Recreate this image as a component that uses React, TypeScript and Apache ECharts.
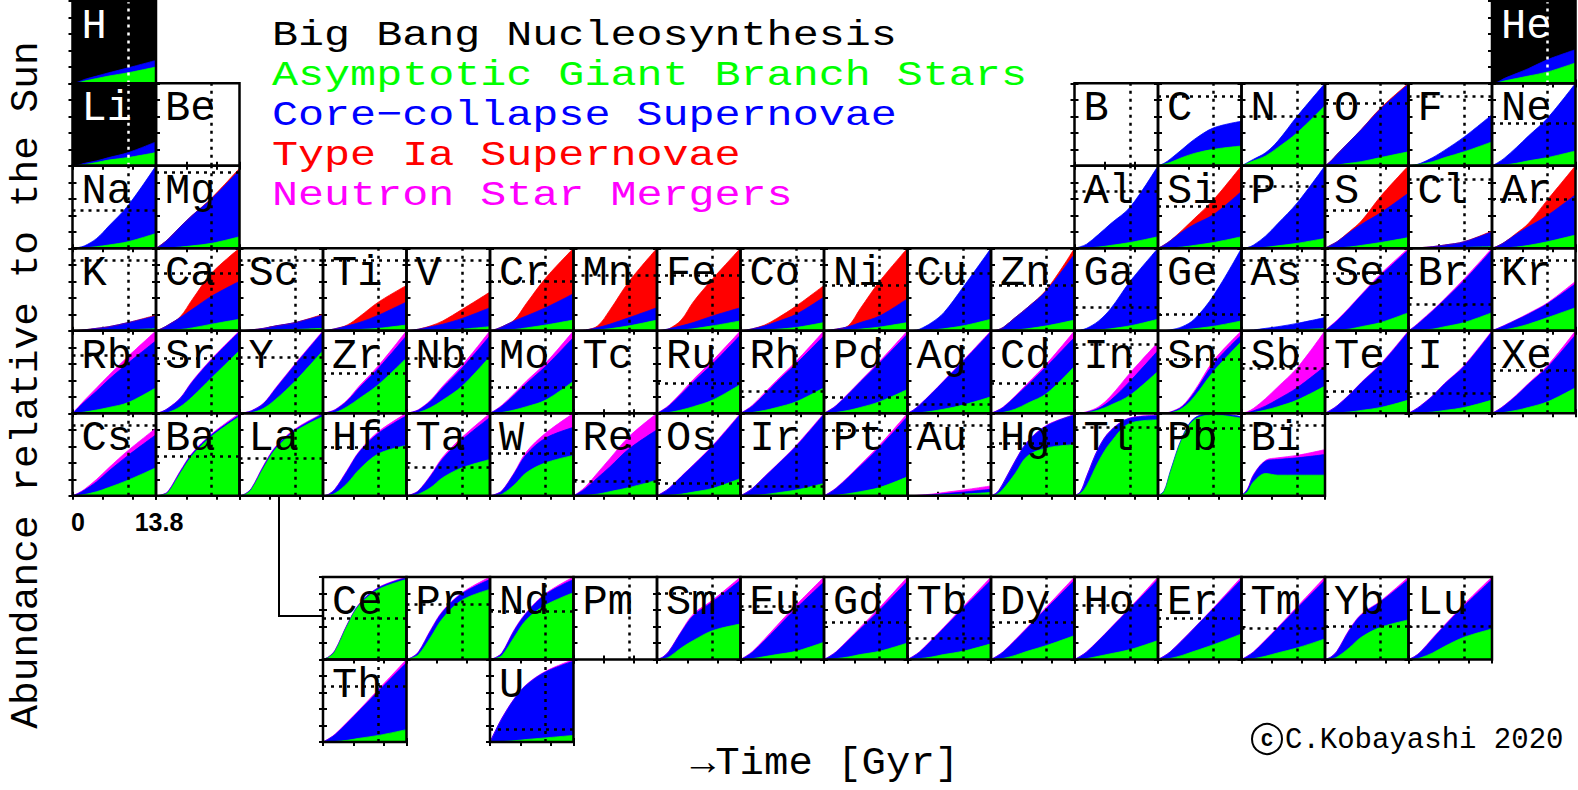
import React, { useEffect, useRef } from "react";
import * as echarts from "echarts";

const TIMES = [0, 1, 2, 4, 6, 9.2, 13.8];
const SUN_BIRTH = 9.2;
const T_MAX = 13.8;

// [symbol, column, row]  (row 7 = lanthanides, row 8 = actinides)
const ELEMENTS: [string, number, number][] = [
  ["H", 0, 0], ["He", 17, 0],
  ["Li", 0, 1], ["Be", 1, 1], ["B", 12, 1], ["C", 13, 1], ["N", 14, 1], ["O", 15, 1], ["F", 16, 1], ["Ne", 17, 1],
  ["Na", 0, 2], ["Mg", 1, 2], ["Al", 12, 2], ["Si", 13, 2], ["P", 14, 2], ["S", 15, 2], ["Cl", 16, 2], ["Ar", 17, 2],
  ["K", 0, 3], ["Ca", 1, 3], ["Sc", 2, 3], ["Ti", 3, 3], ["V", 4, 3], ["Cr", 5, 3], ["Mn", 6, 3], ["Fe", 7, 3], ["Co", 8, 3],
  ["Ni", 9, 3], ["Cu", 10, 3], ["Zn", 11, 3], ["Ga", 12, 3], ["Ge", 13, 3], ["As", 14, 3], ["Se", 15, 3], ["Br", 16, 3], ["Kr", 17, 3],
  ["Rb", 0, 4], ["Sr", 1, 4], ["Y", 2, 4], ["Zr", 3, 4], ["Nb", 4, 4], ["Mo", 5, 4], ["Tc", 6, 4], ["Ru", 7, 4], ["Rh", 8, 4],
  ["Pd", 9, 4], ["Ag", 10, 4], ["Cd", 11, 4], ["In", 12, 4], ["Sn", 13, 4], ["Sb", 14, 4], ["Te", 15, 4], ["I", 16, 4], ["Xe", 17, 4],
  ["Cs", 0, 5], ["Ba", 1, 5], ["La", 2, 5], ["Hf", 3, 5], ["Ta", 4, 5], ["W", 5, 5], ["Re", 6, 5], ["Os", 7, 5], ["Ir", 8, 5],
  ["Pt", 9, 5], ["Au", 10, 5], ["Hg", 11, 5], ["Tl", 12, 5], ["Pb", 13, 5], ["Bi", 14, 5],
  ["Ce", 3, 7], ["Pr", 4, 7], ["Nd", 5, 7], ["Pm", 6, 7], ["Sm", 7, 7], ["Eu", 8, 7], ["Gd", 9, 7], ["Tb", 10, 7],
  ["Dy", 11, 7], ["Ho", 12, 7], ["Er", 13, 7], ["Tm", 14, 7], ["Yb", 15, 7], ["Lu", 16, 7],
  ["Th", 3, 8], ["U", 5, 8],
];

const DARK_CELLS = ["H", "He", "Li"];

// solar abundance level (fraction of panel height), null = not shown
const SOLAR: Record<string, number | null> = {
  H: null, He: null, Li: null, Be: null, B: null,
  C: 0.84, N: 0.6, O: 0.76, F: 0.84, Ne: 0.52,
  Na: 0.46, Mg: 0.92, Al: 0.69, Si: 0.51, P: 0.75, S: 0.46, Cl: 0.84, Ar: 0.59,
  K: 0.85, Ca: 0.7, Sc: 0.85, Ti: 0.85, V: 0.85, Cr: 0.6, Mn: 0.67, Fe: 0.67, Co: 0.85, Ni: 0.55,
  Cu: 0.7, Zn: 0.55, Ga: 0.28, Ge: 0.2, As: 0.85, Se: 0.7, Br: 0.32, Kr: 0.85,
  Rb: 0.7, Sr: 0.67, Y: 0.68, Zr: 0.49, Nb: 0.67, Mo: 0.31, Tc: null, Ru: 0.37, Rh: 0.27, Pd: 0.19,
  Ag: 0.11, Cd: 0.37, In: 0.84, Sn: 0.65, Sb: 0.55, Te: 0.27, I: 0.24, Xe: 0.52,
  Cs: 0.86, Ba: 0.48, La: 0.46, Hf: 0.59, Ta: 0.35, W: 0.51, Re: 0.18, Os: 0.15, Ir: 0.12, Pt: 0.8,
  Au: 0.85, Hg: 0.64, Tl: 0.83, Pb: 0.82, Bi: 0.85,
  Ce: 0.5, Pr: 0.67, Nd: 0.59, Pm: null, Sm: 0.8, Eu: 0.64, Gd: 0.45, Tb: 0.26, Dy: 0.45, Ho: 0.66,
  Er: 0.5, Tm: 0.38, Yb: 0.4, Lu: 0.4, Th: 0.67, U: 0.15,
};

// cumulative layer tops (fraction of panel height) at TIMES
const BBN_TOP: Record<string, number[]> = {
  H: [1, 1, 1, 1, 1, 1, 1],
  He: [1, 1, 1, 1, 1, 1, 1],
  Li: [1, 1, 1, 1, 1, 1, 1],
};

const NSM_TOP: Record<string, number[]> = {
  Se: [0, 0.065, 0.13, 0.28, 0.44, 0.69, 1.0],
  Br: [0, 0.055, 0.12, 0.25, 0.39, 0.63, 1.0],
  Kr: [0, 0.032, 0.065, 0.135, 0.21, 0.34, 0.6],
  Rb: [0, 0.08, 0.16, 0.31, 0.46, 0.69, 1.0],
  Sr: [0, 0.021, 0.062, 0.185, 0.39, 0.66, 1.0],
  Y: [0, 0.011, 0.032, 0.125, 0.31, 0.6, 1.0],
  Zr: [0, 0.017, 0.045, 0.16, 0.33, 0.58, 1.0],
  Nb: [0, 0.017, 0.045, 0.16, 0.33, 0.58, 1.0],
  Mo: [0, 0.045, 0.1, 0.24, 0.39, 0.61, 1.0],
  Ru: [0, 0.045, 0.1, 0.25, 0.41, 0.64, 1.0],
  Rh: [0, 0.045, 0.1, 0.25, 0.4, 0.63, 1.0],
  Pd: [0, 0.043, 0.095, 0.24, 0.39, 0.63, 1.0],
  Ag: [0, 0.042, 0.102, 0.245, 0.395, 0.64, 1.0],
  Cd: [0, 0.033, 0.075, 0.21, 0.36, 0.6, 1.0],
  In: [0, 0.006, 0.018, 0.08, 0.21, 0.49, 0.86],
  Sn: [0, 0.005, 0.015, 0.09, 0.27, 0.64, 1.0],
  Sb: [0, 0.02, 0.06, 0.18, 0.32, 0.55, 1.0],
  Te: [0, 0.042, 0.092, 0.225, 0.375, 0.6, 1.0],
  I: [0, 0.042, 0.092, 0.215, 0.365, 0.58, 1.0],
  Xe: [0, 0.042, 0.094, 0.22, 0.36, 0.58, 1.0],
  Cs: [0, 0.035, 0.08, 0.2, 0.34, 0.55, 0.82],
  Ba: [0, 0.014, 0.055, 0.3, 0.52, 0.75, 1.0],
  La: [0, 0.027, 0.095, 0.37, 0.6, 0.81, 1.0],
  Hf: [0, 0.022, 0.085, 0.31, 0.54, 0.78, 1.0],
  Ta: [0, 0.022, 0.065, 0.25, 0.47, 0.71, 1.0],
  W: [0, 0.022, 0.065, 0.28, 0.53, 0.76, 1.0],
  Re: [0, 0.05, 0.11, 0.28, 0.45, 0.72, 1.0],
  Os: [0, 0.042, 0.092, 0.235, 0.375, 0.61, 1.0],
  Ir: [0, 0.042, 0.092, 0.235, 0.375, 0.61, 1.0],
  Pt: [0, 0.043, 0.095, 0.23, 0.375, 0.615, 1.0],
  Au: [0, 0.003, 0.008, 0.02, 0.04, 0.07, 0.12],
  Hg: [0, 0.042, 0.152, 0.425, 0.655, 0.855, 0.985],
  Tl: [0, 0.052, 0.235, 0.585, 0.795, 0.945, 0.975],
  Bi: [0, 0.085, 0.26, 0.43, 0.46, 0.49, 0.56],
  Ce: [0, 0.037, 0.115, 0.425, 0.675, 0.875, 1.0],
  Pr: [0, 0.032, 0.095, 0.36, 0.59, 0.81, 1.0],
  Nd: [0, 0.027, 0.085, 0.36, 0.57, 0.8, 1.0],
  Sm: [0, 0.032, 0.105, 0.34, 0.55, 0.72, 1.0],
  Eu: [0, 0.045, 0.1, 0.25, 0.41, 0.66, 1.0],
  Gd: [0, 0.043, 0.095, 0.24, 0.39, 0.63, 1.0],
  Tb: [0, 0.043, 0.095, 0.24, 0.39, 0.64, 1.0],
  Dy: [0, 0.043, 0.095, 0.24, 0.39, 0.64, 1.0],
  Ho: [0, 0.042, 0.093, 0.235, 0.385, 0.63, 1.0],
  Er: [0, 0.042, 0.093, 0.235, 0.385, 0.63, 1.0],
  Tm: [0, 0.043, 0.095, 0.24, 0.39, 0.64, 1.0],
  Yb: [0, 0.032, 0.105, 0.36, 0.55, 0.71, 1.0],
  Lu: [0, 0.037, 0.095, 0.26, 0.42, 0.67, 1.0],
  Th: [0, 0.043, 0.095, 0.24, 0.39, 0.64, 1.0],
  U: [0, 0.152, 0.293, 0.525, 0.695, 0.857, 1.0],
};

const SNIA_TOP: Record<string, number[]> = {
  O: [0, 0.06, 0.14, 0.29, 0.44, 0.7, 1.0],
  Mg: [0, 0.05, 0.11, 0.26, 0.4, 0.61, 0.97],
  Si: [0, 0.04, 0.09, 0.22, 0.36, 0.59, 1.0],
  S: [0, 0.04, 0.08, 0.2, 0.33, 0.63, 1.0],
  Cl: [0, 0.003, 0.008, 0.02, 0.04, 0.08, 0.21],
  Ar: [0, 0.03, 0.07, 0.18, 0.3, 0.59, 1.0],
  K: [0, 0.005, 0.012, 0.03, 0.05, 0.1, 0.19],
  Ca: [0, 0.03, 0.07, 0.17, 0.38, 0.7, 1.0],
  Sc: [0, 0.005, 0.012, 0.03, 0.06, 0.1, 0.2],
  Ti: [0, 0.01, 0.025, 0.07, 0.17, 0.35, 0.55],
  V: [0, 0.008, 0.02, 0.06, 0.12, 0.26, 0.47],
  Cr: [0, 0.02, 0.05, 0.13, 0.33, 0.64, 1.0],
  Mn: [0, 0.005, 0.01, 0.06, 0.25, 0.6, 1.0],
  Fe: [0, 0.01, 0.025, 0.13, 0.35, 0.63, 1.0],
  Co: [0, 0.01, 0.025, 0.07, 0.15, 0.3, 0.55],
  Ni: [0, 0.01, 0.02, 0.06, 0.27, 0.6, 1.0],
  Zn: [0, 0.01, 0.04, 0.16, 0.28, 0.5, 1.0],
};

const CCSN_TOP: Record<string, number[]> = {
  H: [0, 0.02, 0.05, 0.09, 0.13, 0.19, 0.28],
  He: [0, 0.02, 0.06, 0.12, 0.18, 0.29, 0.41],
  Li: [0, 0.01, 0.03, 0.06, 0.1, 0.16, 0.29],
  C: [0, 0.03, 0.08, 0.2, 0.32, 0.46, 0.54],
  N: [0, 0.04, 0.08, 0.16, 0.3, 0.6, 1.0],
  O: [0, 0.06, 0.14, 0.29, 0.44, 0.69, 0.99],
  F: [0, 0.01, 0.03, 0.1, 0.19, 0.35, 0.62],
  Ne: [0, 0.04, 0.09, 0.22, 0.36, 0.58, 1.0],
  Na: [0, 0.01, 0.03, 0.12, 0.27, 0.52, 1.0],
  Mg: [0, 0.05, 0.11, 0.26, 0.4, 0.6, 0.95],
  Al: [0, 0.02, 0.05, 0.17, 0.3, 0.5, 1.0],
  Si: [0, 0.04, 0.09, 0.2, 0.29, 0.41, 0.69],
  P: [0, 0.01, 0.04, 0.15, 0.3, 0.55, 1.0],
  S: [0, 0.04, 0.08, 0.19, 0.29, 0.43, 0.67],
  Cl: [0, 0.003, 0.008, 0.02, 0.04, 0.08, 0.2],
  Ar: [0, 0.03, 0.07, 0.17, 0.26, 0.4, 0.65],
  K: [0, 0.005, 0.012, 0.03, 0.05, 0.1, 0.18],
  Ca: [0, 0.03, 0.07, 0.16, 0.26, 0.42, 0.6],
  Sc: [0, 0.005, 0.012, 0.03, 0.06, 0.1, 0.19],
  Ti: [0, 0.01, 0.025, 0.06, 0.1, 0.19, 0.35],
  V: [0, 0.008, 0.02, 0.05, 0.08, 0.15, 0.28],
  Cr: [0, 0.02, 0.05, 0.12, 0.18, 0.28, 0.45],
  Mn: [0, 0.005, 0.01, 0.04, 0.08, 0.16, 0.28],
  Fe: [0, 0.01, 0.025, 0.06, 0.1, 0.18, 0.28],
  Co: [0, 0.01, 0.025, 0.06, 0.11, 0.2, 0.41],
  Ni: [0, 0.01, 0.02, 0.05, 0.1, 0.18, 0.39],
  Cu: [0, 0.005, 0.02, 0.1, 0.22, 0.53, 1.0],
  Zn: [0, 0.01, 0.04, 0.16, 0.28, 0.49, 0.93],
  Ga: [0, 0.01, 0.03, 0.12, 0.27, 0.6, 1.0],
  Ge: [0, 0.003, 0.01, 0.05, 0.14, 0.43, 1.0],
  As: [0, 0.004, 0.01, 0.03, 0.05, 0.09, 0.16],
  Se: [0, 0.06, 0.12, 0.27, 0.43, 0.67, 0.98],
  Br: [0, 0.05, 0.11, 0.24, 0.38, 0.61, 0.98],
  Kr: [0, 0.03, 0.06, 0.13, 0.2, 0.33, 0.57],
  Rb: [0, 0.07, 0.14, 0.27, 0.41, 0.61, 0.88],
  Sr: [0, 0.02, 0.06, 0.18, 0.38, 0.65, 0.99],
  Y: [0, 0.01, 0.03, 0.12, 0.3, 0.59, 0.99],
  Zr: [0, 0.015, 0.04, 0.15, 0.31, 0.55, 0.94],
  Nb: [0, 0.015, 0.04, 0.15, 0.31, 0.55, 0.94],
  Mo: [0, 0.04, 0.09, 0.22, 0.36, 0.57, 0.92],
  Ru: [0, 0.04, 0.09, 0.23, 0.38, 0.6, 0.95],
  Rh: [0, 0.04, 0.09, 0.23, 0.38, 0.6, 0.94],
  Pd: [0, 0.04, 0.09, 0.23, 0.38, 0.61, 0.96],
  Ag: [0, 0.04, 0.1, 0.24, 0.39, 0.63, 0.99],
  Cd: [0, 0.03, 0.07, 0.2, 0.34, 0.57, 0.92],
  In: [0, 0.004, 0.012, 0.06, 0.16, 0.39, 0.76],
  Sn: [0, 0.004, 0.012, 0.08, 0.25, 0.6, 0.95],
  Sb: [0, 0.01, 0.03, 0.09, 0.17, 0.31, 0.57],
  Te: [0, 0.04, 0.09, 0.22, 0.37, 0.59, 0.99],
  I: [0, 0.04, 0.09, 0.21, 0.36, 0.57, 0.99],
  Xe: [0, 0.04, 0.09, 0.21, 0.35, 0.56, 0.95],
  Cs: [0, 0.03, 0.07, 0.17, 0.3, 0.49, 0.74],
  Ba: [0, 0.012, 0.05, 0.29, 0.51, 0.74, 0.98],
  La: [0, 0.025, 0.09, 0.36, 0.59, 0.8, 0.99],
  Hf: [0, 0.02, 0.08, 0.3, 0.53, 0.76, 0.97],
  Ta: [0, 0.02, 0.06, 0.24, 0.45, 0.68, 0.95],
  W: [0, 0.02, 0.06, 0.27, 0.5, 0.7, 0.83],
  Re: [0, 0.04, 0.09, 0.22, 0.35, 0.57, 0.8],
  Os: [0, 0.04, 0.09, 0.23, 0.37, 0.6, 0.99],
  Ir: [0, 0.04, 0.09, 0.23, 0.37, 0.6, 0.99],
  Pt: [0, 0.04, 0.09, 0.22, 0.36, 0.59, 0.96],
  Au: [0, 0.002, 0.005, 0.012, 0.025, 0.045, 0.08],
  Hg: [0, 0.04, 0.15, 0.42, 0.65, 0.85, 0.98],
  Tl: [0, 0.05, 0.23, 0.58, 0.79, 0.94, 0.97],
  Pb: [0, 0.06, 0.29, 0.71, 0.94, 1.0, 0.96],
  Bi: [0, 0.08, 0.25, 0.42, 0.44, 0.46, 0.5],
  Ce: [0, 0.035, 0.11, 0.42, 0.67, 0.87, 0.99],
  Pr: [0, 0.03, 0.09, 0.35, 0.58, 0.8, 0.97],
  Nd: [0, 0.025, 0.08, 0.35, 0.56, 0.79, 0.97],
  Sm: [0, 0.03, 0.1, 0.33, 0.53, 0.7, 0.96],
  Eu: [0, 0.04, 0.09, 0.23, 0.38, 0.62, 0.94],
  Gd: [0, 0.04, 0.09, 0.23, 0.37, 0.6, 0.95],
  Tb: [0, 0.04, 0.09, 0.23, 0.38, 0.62, 0.96],
  Dy: [0, 0.04, 0.09, 0.23, 0.38, 0.62, 0.96],
  Ho: [0, 0.04, 0.09, 0.23, 0.38, 0.62, 0.97],
  Er: [0, 0.04, 0.09, 0.23, 0.38, 0.62, 0.97],
  Tm: [0, 0.04, 0.09, 0.23, 0.38, 0.62, 0.96],
  Yb: [0, 0.03, 0.1, 0.35, 0.54, 0.7, 0.97],
  Lu: [0, 0.035, 0.09, 0.25, 0.41, 0.65, 0.97],
  Th: [0, 0.04, 0.09, 0.23, 0.38, 0.62, 0.96],
  U: [0, 0.15, 0.29, 0.52, 0.69, 0.85, 0.98],
};

const AGB_TOP: Record<string, number[]> = {
  H: [0, 0.01, 0.03, 0.06, 0.09, 0.13, 0.2],
  He: [0, 0.01, 0.03, 0.06, 0.09, 0.14, 0.25],
  Li: [0, 0.005, 0.015, 0.04, 0.07, 0.1, 0.16],
  C: [0, 0.02, 0.04, 0.1, 0.15, 0.2, 0.24],
  N: [0, 0.03, 0.06, 0.12, 0.22, 0.4, 0.73],
  O: [0, 0.005, 0.01, 0.03, 0.05, 0.1, 0.17],
  F: [0, 0.01, 0.02, 0.05, 0.1, 0.17, 0.29],
  Ne: [0, 0.005, 0.01, 0.03, 0.06, 0.1, 0.18],
  Na: [0, 0.002, 0.005, 0.02, 0.04, 0.08, 0.18],
  Mg: [0, 0.002, 0.005, 0.015, 0.03, 0.06, 0.14],
  Al: [0, 0.002, 0.005, 0.015, 0.035, 0.07, 0.14],
  Si: [0, 0.002, 0.005, 0.015, 0.035, 0.07, 0.14],
  P: [0, 0.002, 0.004, 0.012, 0.03, 0.06, 0.12],
  S: [0, 0.002, 0.005, 0.015, 0.035, 0.07, 0.13],
  Cl: [0, 0, 0.001, 0.003, 0.005, 0.01, 0.02],
  Ar: [0, 0.002, 0.005, 0.015, 0.035, 0.08, 0.16],
  K: [0, 0, 0.001, 0.003, 0.006, 0.012, 0.025],
  Ca: [0, 0.002, 0.005, 0.015, 0.035, 0.08, 0.14],
  Sc: [0, 0, 0.001, 0.003, 0.008, 0.015, 0.03],
  Ti: [0, 0.001, 0.003, 0.008, 0.015, 0.03, 0.07],
  V: [0, 0.001, 0.002, 0.005, 0.01, 0.02, 0.05],
  Cr: [0, 0.002, 0.005, 0.015, 0.035, 0.07, 0.13],
  Mn: [0, 0.001, 0.003, 0.01, 0.025, 0.06, 0.13],
  Fe: [0, 0.001, 0.003, 0.01, 0.025, 0.06, 0.12],
  Co: [0, 0.001, 0.003, 0.008, 0.018, 0.04, 0.1],
  Ni: [0, 0.001, 0.003, 0.008, 0.02, 0.045, 0.1],
  Cu: [0, 0.001, 0.003, 0.01, 0.025, 0.06, 0.14],
  Zn: [0, 0.001, 0.003, 0.01, 0.025, 0.06, 0.13],
  Ga: [0, 0.001, 0.003, 0.01, 0.025, 0.06, 0.14],
  Ge: [0, 0.001, 0.003, 0.01, 0.025, 0.055, 0.12],
  As: [0, 0, 0.001, 0.003, 0.006, 0.012, 0.025],
  Se: [0, 0.002, 0.006, 0.02, 0.05, 0.1, 0.22],
  Br: [0, 0.002, 0.006, 0.02, 0.05, 0.1, 0.22],
  Kr: [0, 0.003, 0.01, 0.04, 0.08, 0.16, 0.28],
  Rb: [0, 0.005, 0.015, 0.04, 0.07, 0.13, 0.31],
  Sr: [0, 0.002, 0.01, 0.08, 0.2, 0.43, 0.76],
  Y: [0, 0.002, 0.008, 0.06, 0.17, 0.39, 0.76],
  Zr: [0, 0.003, 0.01, 0.08, 0.18, 0.35, 0.67],
  Nb: [0, 0.003, 0.01, 0.07, 0.16, 0.33, 0.69],
  Mo: [0, 0.003, 0.01, 0.04, 0.08, 0.16, 0.39],
  Ru: [0, 0.003, 0.01, 0.04, 0.08, 0.16, 0.35],
  Rh: [0, 0.003, 0.01, 0.035, 0.07, 0.14, 0.31],
  Pd: [0, 0.003, 0.01, 0.035, 0.07, 0.14, 0.29],
  Ag: [0, 0.002, 0.006, 0.025, 0.05, 0.1, 0.2],
  Cd: [0, 0.003, 0.01, 0.05, 0.12, 0.24, 0.57],
  In: [0, 0.002, 0.006, 0.04, 0.1, 0.22, 0.51],
  Sn: [0, 0.002, 0.006, 0.06, 0.2, 0.51, 0.87],
  Sb: [0, 0.003, 0.01, 0.04, 0.08, 0.16, 0.33],
  Te: [0, 0.002, 0.005, 0.015, 0.035, 0.07, 0.16],
  I: [0, 0.002, 0.005, 0.015, 0.035, 0.07, 0.16],
  Xe: [0, 0.003, 0.01, 0.035, 0.07, 0.14, 0.31],
  Cs: [0, 0.005, 0.015, 0.05, 0.1, 0.19, 0.34],
  Ba: [0, 0.01, 0.04, 0.27, 0.49, 0.72, 0.96],
  La: [0, 0.02, 0.08, 0.34, 0.57, 0.78, 0.96],
  Hf: [0, 0.008, 0.03, 0.15, 0.32, 0.51, 0.61],
  Ta: [0, 0.005, 0.02, 0.1, 0.22, 0.34, 0.44],
  W: [0, 0.005, 0.02, 0.13, 0.28, 0.4, 0.49],
  Re: [0, 0.002, 0.006, 0.02, 0.05, 0.1, 0.19],
  Os: [0, 0.002, 0.006, 0.02, 0.045, 0.09, 0.21],
  Ir: [0, 0.002, 0.005, 0.015, 0.035, 0.07, 0.15],
  Pt: [0, 0.002, 0.006, 0.025, 0.05, 0.1, 0.23],
  Au: [0, 0, 0.001, 0.004, 0.01, 0.02, 0.04],
  Hg: [0, 0.02, 0.08, 0.27, 0.48, 0.58, 0.62],
  Tl: [0, 0.03, 0.12, 0.42, 0.65, 0.88, 0.92],
  Pb: [0, 0.05, 0.27, 0.69, 0.92, 0.98, 0.94],
  Bi: [0, 0.05, 0.17, 0.27, 0.25, 0.25, 0.25],
  Ce: [0, 0.03, 0.1, 0.41, 0.66, 0.85, 0.97],
  Pr: [0, 0.02, 0.06, 0.27, 0.5, 0.72, 0.85],
  Nd: [0, 0.015, 0.05, 0.27, 0.48, 0.66, 0.81],
  Sm: [0, 0.008, 0.03, 0.14, 0.23, 0.35, 0.43],
  Eu: [0, 0.003, 0.01, 0.035, 0.06, 0.1, 0.21],
  Gd: [0, 0.003, 0.01, 0.03, 0.06, 0.1, 0.2],
  Tb: [0, 0.003, 0.01, 0.03, 0.06, 0.1, 0.19],
  Dy: [0, 0.004, 0.012, 0.05, 0.1, 0.17, 0.29],
  Ho: [0, 0.003, 0.01, 0.04, 0.07, 0.12, 0.23],
  Er: [0, 0.004, 0.012, 0.05, 0.1, 0.18, 0.31],
  Tm: [0, 0.003, 0.01, 0.04, 0.08, 0.14, 0.25],
  Yb: [0, 0.008, 0.03, 0.14, 0.27, 0.39, 0.48],
  Lu: [0, 0.005, 0.02, 0.08, 0.16, 0.27, 0.37],
  Th: [0, 0.002, 0.006, 0.02, 0.045, 0.08, 0.15],
  U: [0, 0.002, 0.005, 0.015, 0.03, 0.05, 0.08],
};

const LEGEND_LABELS = [
  "Big Bang Nucleosynthesis",
  "Asymptotic Giant Branch Stars",
  "Core\u2212collapse Supernovae",
  "Type Ia Supernovae",
  "Neutron Star Mergers",
];
const LEGEND_COLORS = ["#000000", "#00ff00", "#0000ff", "#ff0000", "#ff00ff"];
const X_TICK_LABELS = ["0", "13.8"];

// layout
const X0 = 72.5;
const CW = 83.5;
const CH = 82.5;
const ROW_TOP = [1, 83.3, 165.8, 248.3, 330.8, 413.3, 0, 577, 659.5];
const MONO = '"Liberation Mono", "DejaVu Sans Mono", monospace';

function centeredText(x: number, y: number, text: string, font: string, extra: any = {}) {
  return {
    type: "text",
    x,
    y,
    z: 10,
    ...extra,
    style: {
      text,
      font,
      fill: "#000",
      textAlign: "center",
      textVerticalAlign: "middle",
      align: "center",
      verticalAlign: "middle",
    },
  };
}

function buildOption() {
  const grid: any[] = [];
  const xAxis: any[] = [];
  const yAxis: any[] = [];
  const series: any[] = [];
  const graphic: any[] = [];

  ELEMENTS.forEach(([sym, col, row], i) => {
    const left = X0 + col * CW;
    const top = ROW_TOP[row];
    const dark = DARK_CELLS.includes(sym);
    grid.push({ left, top, width: CW, height: CH, show: false, containLabel: false });
    const base = {
      gridIndex: i,
      type: "value",
      min: 0,
      axisLine: { show: false },
      axisLabel: { show: false },
      splitLine: { show: false },
      axisTick: { show: true, inside: true, length: 4, lineStyle: { color: "#000", width: 2 } },
    };
    xAxis.push({ ...base, max: T_MAX, interval: 5, position: "bottom" });
    xAxis.push({ ...base, max: T_MAX, interval: 5, position: "top" });
    yAxis.push({ ...base, max: 1, interval: 0.2, position: "left" });
    yAxis.push({ ...base, max: 1, interval: 0.2, position: "right" });

    const layers: [Record<string, number[]>, string, string][] = [
      [BBN_TOP, LEGEND_COLORS[0], "BBN"],
      [NSM_TOP, LEGEND_COLORS[4], "NSM"],
      [SNIA_TOP, LEGEND_COLORS[3], "SNIa"],
      [CCSN_TOP, LEGEND_COLORS[2], "CCSN"],
      [AGB_TOP, LEGEND_COLORS[1], "AGB"],
    ];
    layers.forEach(([table, color, name]) => {
      const vals = table[sym];
      if (!vals) return;
      series.push({
        type: "line",
        name: sym + "-" + name,
        xAxisIndex: 2 * i,
        yAxisIndex: 2 * i,
        data: TIMES.map((t, j) => [t, vals[j]]),
        smooth: 0.35,
        symbol: "none",
        showSymbol: false,
        silent: true,
        lineStyle: { width: 0.8, color },
        areaStyle: { color, opacity: 1 },
        z: 2,
      });
    });

    const dotColor = dark ? "#ffffff" : "#000000";
    const marks: any[] = [{ xAxis: SUN_BIRTH }];
    const sol = SOLAR[sym];
    if (sol != null) marks.push({ yAxis: sol });
    series.push({
      type: "line",
      name: sym + "-ref",
      xAxisIndex: 2 * i,
      yAxisIndex: 2 * i,
      data: [],
      symbol: "none",
      silent: true,
      z: 3,
      markLine: {
        silent: true,
        symbol: ["none", "none"],
        label: { show: false },
        lineStyle: { color: dotColor, type: [3, 5], width: 2.5 },
        data: marks,
      },
    });

    graphic.push({
      type: "text",
      x: left + 9,
      y: top + 26,
      z: 10,
      style: {
        text: sym,
        font: "42px " + MONO,
        fill: dark ? "#ffffff" : "#000000",
        textAlign: "left",
        textVerticalAlign: "middle",
        align: "left",
        verticalAlign: "middle",
      },
    });
    graphic.push({
      type: "rect",
      z: 20,
      shape: { x: left, y: top, width: CW, height: CH },
      style: { fill: "none", stroke: "#000", lineWidth: 2.5 },
    });
  });

  LEGEND_LABELS.forEach((label, k) => {
    graphic.push({
      type: "text",
      x: 272,
      y: 36 + k * 40,
      z: 10,
      scaleX: 1.24,
      style: {
        text: label,
        font: "35px " + MONO,
        fill: LEGEND_COLORS[k],
        textAlign: "left",
        textVerticalAlign: "middle",
        align: "left",
        verticalAlign: "middle",
      },
    });
  });

  // connector from La to the lanthanide row
  graphic.push({
    type: "polyline",
    z: 20,
    shape: { points: [[279, ROW_TOP[5] + CH], [279, 616], [X0 + 3 * CW, 616]] },
    style: { stroke: "#000", lineWidth: 2, fill: "none" },
  });

  // time-axis end labels under Cs
  graphic.push(centeredText(78, 522, X_TICK_LABELS[0], 'bold 25px "Liberation Sans", Arial, sans-serif'));
  graphic.push(centeredText(159, 522, X_TICK_LABELS[1], 'bold 25px "Liberation Sans", Arial, sans-serif'));

  // axis titles
  graphic.push(
    centeredText(26, 385, "Abundance relative to the Sun", "39.5px " + MONO, { rotation: Math.PI / 2 })
  );
  graphic.push(centeredText(825, 764, "\u2192Time [Gyr]", "38px " + MONO, { scaleX: 1.07 }));

  // copyright mark
  graphic.push({
    type: "circle",
    z: 10,
    shape: { cx: 1267, cy: 739, r: 15 },
    style: { fill: "none", stroke: "#000", lineWidth: 2 },
  });
  graphic.push(centeredText(1267, 740, "C", "bold 20px " + MONO));
  graphic.push({
    type: "text",
    x: 1285,
    y: 740,
    z: 10,
    style: {
      text: "C.Kobayashi 2020",
      font: "29px " + MONO,
      fill: "#000",
      textAlign: "left",
      textVerticalAlign: "middle",
      align: "left",
      verticalAlign: "middle",
    },
  });

  return {
    animation: false,
    backgroundColor: "#ffffff",
    grid,
    xAxis,
    yAxis,
    series,
    graphic: { elements: graphic },
  };
}

export default function App() {
  const ref = useRef<HTMLDivElement>(null);
  useEffect(() => {
    if (!ref.current) return;
    const chart = echarts.init(ref.current, undefined, { renderer: "svg" });
    chart.setOption(buildOption() as any);
    return () => chart.dispose();
  }, []);
  return (
    <div
      ref={ref}
      style={{ position: "fixed", left: 0, top: 0, width: 1578, height: 790, background: "#fff" }}
    />
  );
}
